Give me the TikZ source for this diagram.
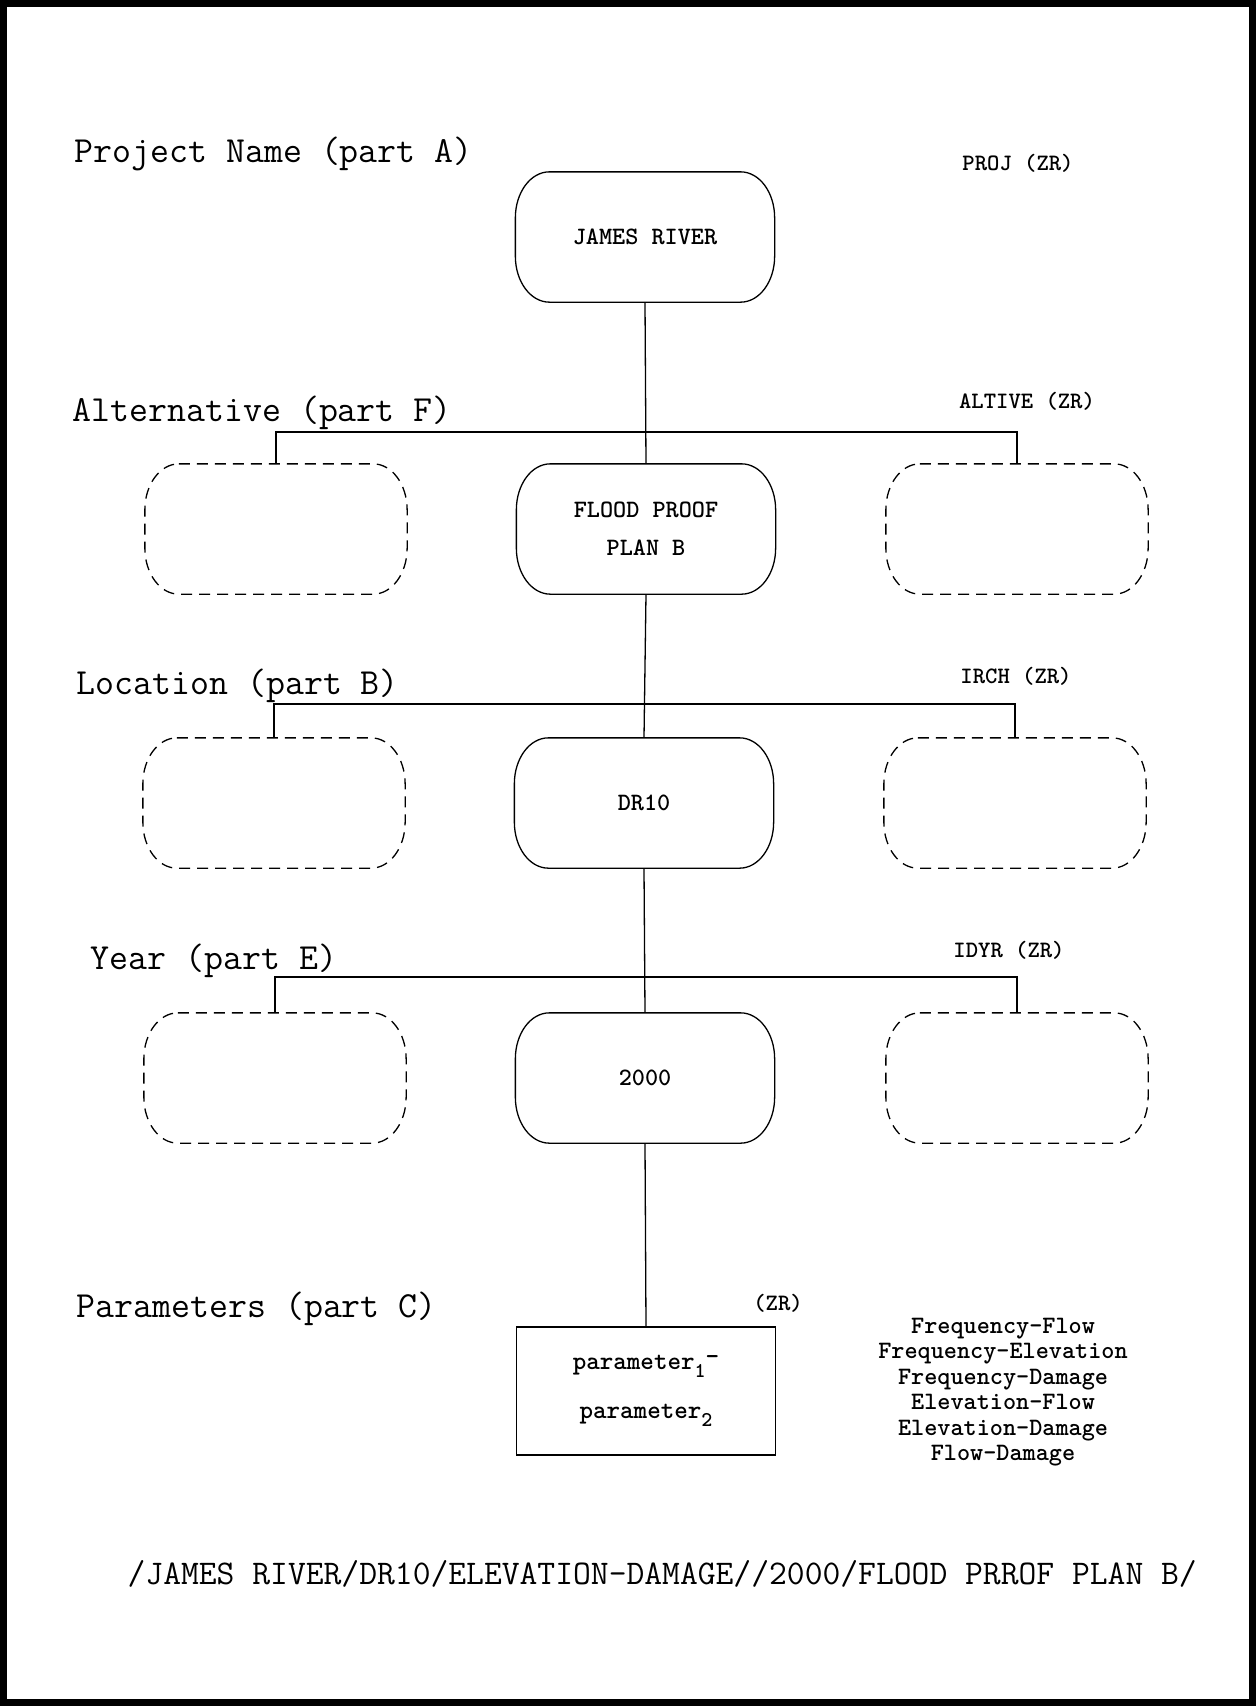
\documentclass[tikz,border=0pt]{standalone}
\usepackage{fontspec}
\newcommand\capsuleoutline[2][]{%
  \draw[#1] ([xshift=34pt]#2.north west) -- ([xshift=-34pt]#2.north east)
    arc[start angle=90,end angle=0,x radius=34pt,y radius=46pt]
    -- ([yshift=46pt]#2.south east)
    arc[start angle=0,end angle=-90,x radius=34pt,y radius=46pt]
    -- ([xshift=34pt]#2.south west)
    arc[start angle=-90,end angle=-180,x radius=34pt,y radius=46pt]
    -- ([yshift=-46pt]#2.north west)
    arc[start angle=180,end angle=90,x radius=34pt,y radius=46pt] -- cycle;}
\newcommand\subdigit[1]{\raisebox{-0.32em}{\fontsize{21}{21}\selectfont #1}}
\begin{document}
\begin{tikzpicture}[x=1pt,y=-1pt,line width=1.3pt,
  lbl/.style={anchor=base west,inner sep=0pt,font=\fontsize{36.8}{40}\ttfamily},
  zr/.style={anchor=base,inner sep=0pt,font=\fontsize{23.5}{28}\ttfamily\bfseries},
  capsule/.style={minimum width=258pt,minimum height=129pt,inner sep=0pt,
    font=\fontsize{25}{38}\ttfamily\bfseries,align=center},
  ghost/.style={minimum width=261pt,minimum height=129pt,inner sep=0pt},
  ghostline/.style={dash pattern=on 11pt off 7pt},
  parbox/.style={draw,minimum width=259pt,minimum height=128pt,inner sep=0pt,
    font=\fontsize{25.8}{49}\ttfamily\bfseries,align=center},
  plist/.style={inner sep=0pt,align=center,font=\fontsize{25}{25.5}\ttfamily\bfseries},
  pathtxt/.style={anchor=base west,inner sep=0pt,font=\fontsize{34.6}{40}\ttfamily}]
\useasboundingbox (0,0) rectangle (1256,1706);
\draw[line width=7pt] (3.5,3.5) rectangle (1252.5,1702.5);

% level labels
\node[lbl] (lA) at (74,162) {Project Name (part A)};
\node[lbl] (lF) at (72,421) {Alternative (part F)};
\node[lbl] (lB) at (76,694) {Location (part B)};
\node[lbl] (lE) at (90,969) {Year (part E)};
\node[lbl] (lC) at (76,1317) {Parameters (part C)};

\node[zr] (zA) at (1018,170) {PROJ (ZR)};
\node[zr] (zF) at (1027,408) {ALTIVE (ZR)};
\node[zr] (zB) at (1016,683) {IRCH (ZR)};
\node[zr] (zE) at (1009,957) {IDYR (ZR)};
\node[zr] (zC) at (778,1310) {(ZR)};

% main nodes
\node[capsule] (proj) at (645,237) {JAMES RIVER};
\node[capsule] (alt) at (646,529) {FLOOD PROOF\\PLAN B};
\node[capsule] (loc) at (644,803) {DR10};
\node[capsule] (yr) at (645,1078) {2000};
\capsuleoutline{proj}
\capsuleoutline{alt}
\capsuleoutline{loc}
\capsuleoutline{yr}

\node[ghost] (altL) at (276,529) {};
\node[ghost] (altR) at (1017,529) {};
\node[ghost] (locL) at (274,803) {};
\node[ghost] (locR) at (1015,803) {};
\node[ghost] (yrL) at (275,1078) {};
\node[ghost] (yrR) at (1017,1078) {};
\capsuleoutline[ghostline]{altL}
\capsuleoutline[ghostline]{altR}
\capsuleoutline[ghostline]{locL}
\capsuleoutline[ghostline]{locR}
\capsuleoutline[ghostline]{yrL}
\capsuleoutline[ghostline]{yrR}

\node[parbox] (par) at (646,1391) {parameter\subdigit{1}\raisebox{0.2em}{-}\\parameter\subdigit{2}};

\node[plist] (list) at (1003,1392) {Frequency\textendash Flow\\Frequency\textendash Elevation\\Frequency\textendash Damage\\Elevation\textendash Flow\\Elevation\textendash Damage\\Flow\textendash Damage};

\node[pathtxt] (dss) at (127,1584) {/JAMES RIVER/DR10/ELEVATION\textendash DAMAGE//2000/FLOOD PRROF PLAN B/};

% connectors
\draw (proj.south) -- (alt.north);
\draw (alt.south) -- (loc.north);
\draw (loc.south) -- (yr.north);
\draw (yr.south) -- (par.north);
\draw (altL.north) -- ++(0,-32) -| (altR.north);
\draw (locL.north) -- ++(0,-34) -| (locR.north);
\draw (yrL.north) -- ++(0,-36) -| (yrR.north);
\end{tikzpicture}
\end{document}
